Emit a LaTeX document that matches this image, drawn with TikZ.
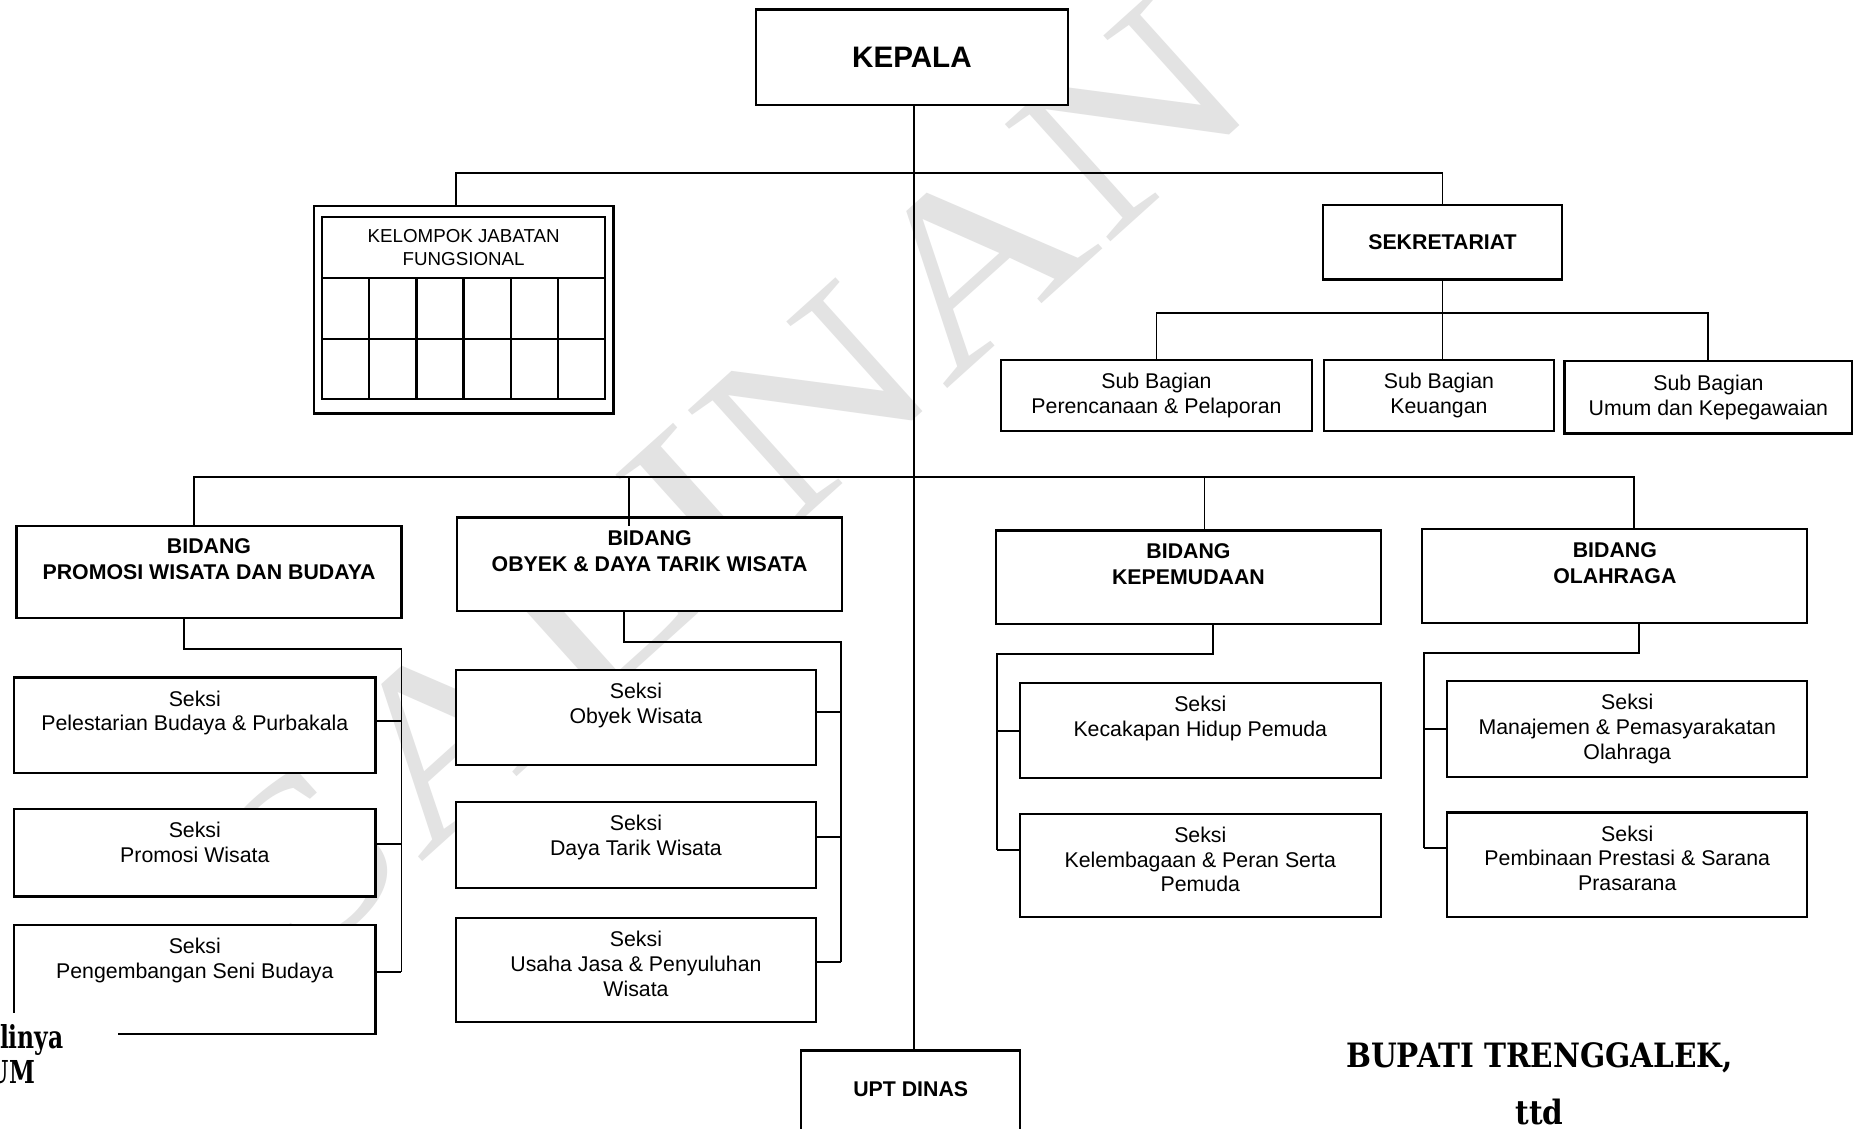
\documentclass[tikz,border=0pt]{standalone}
\usepackage{fontspec}
\setmainfont{Liberation Sans}
\newfontfamily\wmfont{Liberation Serif}
\newfontfamily\signfont{DejaVu Serif}[FakeStretch=0.88]
\newfontfamily\signnarrow{DejaVu Serif}[FakeStretch=0.74]
\usetikzlibrary{fit,calc}

\tikzset{
  box/.style={draw, fill=white, line width=1.1pt, inner sep=0pt, align=center},
  conn/.style={line width=0.95pt},
  toptext/.style={anchor=north, align=center, inner sep=0pt, yshift=-7pt},
  plain/.style={font=\fontsize{10.8}{12.6}\selectfont},
  heavy/.style={font=\bfseries\fontsize{10.8}{13.2}\selectfont},
  small/.style={font=\fontsize{9.5}{11.4}\selectfont},
  big/.style={font=\bfseries\fontsize{15}{18}\selectfont},
  sign/.style={font=\signfont\bfseries\fontsize{17}{20}\selectfont, inner sep=0pt},
  signcut/.style={font=\signnarrow\bfseries\fontsize{16}{19}\selectfont, inner sep=0pt, anchor=east},
  wm/.style={font=\wmfont\fontsize{122}{122}\selectfont, text=gray!22,
             inner sep=0pt, rotate=42, xscale=1.23},
}

% box with text hanging from its top edge
\newcommand\orgbox[7]{%
  \node[box, fit={(#3,#4) (#5,#6)}] (#2) {};
  \node[toptext,#1] (#2-t) at (#2.north) {#7};}
% box with centred text
\newcommand\cbox[7]{%
  \node[box, fit={(#3,#4) (#5,#6)}] (#2) {};
  \node[#1, align=center, inner sep=0pt] (#2-t) at (#2.center) {#7};}

\begin{document}
\begin{tikzpicture}[x=0.6pt, y=-0.6pt]
\useasboundingbox (0,0) rectangle (1568,953);
\clip (0,0) rectangle (1568,953);
\fill[white] (0,0) rectangle (1568,953);

% watermark
\node[wm] (wmark) at (615,406) {SALINAN};

% top level
\cbox{big}{kepala}{638}{8}{902}{89}{KEPALA}

% functional group
\node[box, line width=1.2pt, fit={(265,174) (518,349)}] (kjf) {};
\node[box, line width=1.2pt, fit={(272,183) (511,337)}] (kjfin) {};
\cbox{small}{kjfhead}{272}{183}{511}{235}{KELOMPOK JABATAN\\FUNGSIONAL}
\draw[line width=1.2pt] (272,286) -- (511,286);
\foreach \i in {1,...,5}
  \draw[line width=1.2pt] ({272+\i*39.83},235) -- ({272+\i*39.83},337);

% secretariat
\cbox{heavy}{sek}{1117}{173}{1319}{236}{SEKRETARIAT}
\cbox{plain}{sb1}{845}{304}{1108}{364}{Sub Bagian\\Perencanaan \& Pelaporan}
\cbox{plain}{sb2}{1118}{304}{1312}{364}{Sub Bagian\\Keuangan}
\cbox{plain}{sb3}{1321}{305}{1564}{366}{Sub Bagian\\Umum dan Kepegawaian}

% divisions
\orgbox{heavy}{bp}{14}{444}{339}{522}{BIDANG\\PROMOSI WISATA DAN BUDAYA}
\orgbox{heavy}{bo}{386}{437}{711}{516}{BIDANG\\OBYEK \& DAYA TARIK WISATA}
\orgbox{heavy}{bk}{841}{448}{1166}{527}{BIDANG\\KEPEMUDAAN}
\orgbox{heavy}{bol}{1201}{447}{1526}{526}{BIDANG\\OLAHRAGA}

% sections
\orgbox{plain}{s11}{12}{572}{317}{653}{Seksi\\Pelestarian Budaya \& Purbakala}
\orgbox{plain}{s12}{12}{683}{317}{757}{Seksi\\Promosi Wisata}
\orgbox{plain}{s13}{12}{781}{317}{873}{Seksi\\Pengembangan Seni Budaya}
\orgbox{plain}{s21}{385}{566}{689}{646}{Seksi\\Obyek Wisata}
\orgbox{plain}{s22}{385}{677}{689}{750}{Seksi\\Daya Tarik Wisata}
\orgbox{plain}{s23}{385}{775}{689}{863}{Seksi\\Usaha Jasa \& Penyuluhan\\Wisata}
\orgbox{plain}{s31}{861}{577}{1166}{657}{Seksi\\Kecakapan Hidup Pemuda}
\orgbox{plain}{s32}{861}{687}{1166}{774}{Seksi\\Kelembagaan \& Peran Serta\\Pemuda}
\orgbox{plain}{s41}{1222}{575}{1526}{656}{Seksi\\Manajemen \& Pemasyarakatan\\Olahraga}
\orgbox{plain}{s42}{1222}{686}{1526}{774}{Seksi\\Pembinaan Prestasi \& Sarana\\Prasarana}

% technical unit
\node[box, fit={(676,887) (861,975)}] (upt) {};
\node[heavy, inner sep=0pt] (upt-t) at (769,920) {UPT DINAS};

% connector junctions
\coordinate (kjf-drop) at ($(kjf.north)+(-6.5,0)$);
\coordinate (bp-drop) at ($(bp.north)+(-12.5,0)$);
\coordinate (bo-drop) at ($(bo.north)+(-17.5,0)$);
\coordinate (bk-drop) at ($(bk.north)+(13.5,0)$);
\coordinate (bol-drop) at ($(bol.north)+(16.5,0)$);
\coordinate (topbar) at (0,146);
\coordinate (subbar) at (0,264);
\coordinate (bidbar) at (0,403);
\coordinate (bp-out) at ($(bp.south)+(-21.5,0)$);
\coordinate (bo-out) at ($(bo.south)+(-21.5,0)$);
\coordinate (bk-out) at ($(bk.south)+(20.5,0)$);
\coordinate (bol-out) at ($(bol.south)+(20.5,0)$);
\coordinate (bus1) at (339,548);
\coordinate (bus2) at (710,542);
\coordinate (bus3) at (842,552);
\coordinate (bus4) at (1202,551);
\coordinate (s11-s) at ($(s11.east)+(0,-4)$);
\coordinate (s12-s) at ($(s12.east)+(0,-7)$);
\coordinate (s13-s) at ($(s13.east)+(0,-6)$);
\coordinate (s21-s) at ($(s21.east)+(0,-5)$);
\coordinate (s22-s) at ($(s22.east)+(0,-6.5)$);
\coordinate (s23-s) at ($(s23.east)+(0,-7)$);
\coordinate (s31-s) at (s31.west);
\coordinate (s32-s) at ($(s32.west)+(0,-12.5)$);
\coordinate (s41-s) at (s41.west);
\coordinate (s42-s) at ($(s42.west)+(0,-14)$);

\begin{scope}[conn]
  % head line
  \draw ($(kepala.south)+(2,0)$) -- ($(kepala.south |- upt.north)+(2,0)$);
  % staff level
  \draw (kjf-drop) -- (kjf-drop |- topbar) -| (sek.north);
  \draw (sek.south) -- (sek.south |- sb2.north);
  \draw (sb1.north) -- (sb1.north |- subbar) -| (sb3.north);
  % divisions
  \draw (bp-drop) -- (bp-drop |- bidbar) -| (bol-drop);
  \draw (bol-drop) -- (bol-drop |- bol.north);
  \draw (bo-drop |- bidbar) -- ($(bo-drop)+(0,8)$);
  \draw (bk-drop |- bidbar) -- (bk-drop);
  % section buses
  \draw (bp-out) |- (bus1) -- (bus1 |- s13-s);
  \draw (bo-out) |- (bus2) -- (bus2 |- s23-s);
  \draw (bk-out) |- (bus3) -- (bus3 |- s32-s);
  \draw (bol-out) |- (bus4) -- (bus4 |- s42-s);
  \foreach \s/\b in {s11/bus1, s12/bus1, s13/bus1, s21/bus2, s22/bus2, s23/bus2,
                     s31/bus3, s32/bus3, s41/bus4, s42/bus4}
    \draw (\s-s) -- (\s-s -| \b);
\end{scope}

% signature block
\fill[white] (0,855) rectangle (100,953);
\node[signcut] (nya) at (54,878) {linya};
\node[signcut] (um) at (30,905) {UM};
\node[sign] (bupati) at (1300,893) {BUPATI TRENGGALEK,};
\node[sign] (ttd) at (1300,939) {ttd};
\end{tikzpicture}
\end{document}
